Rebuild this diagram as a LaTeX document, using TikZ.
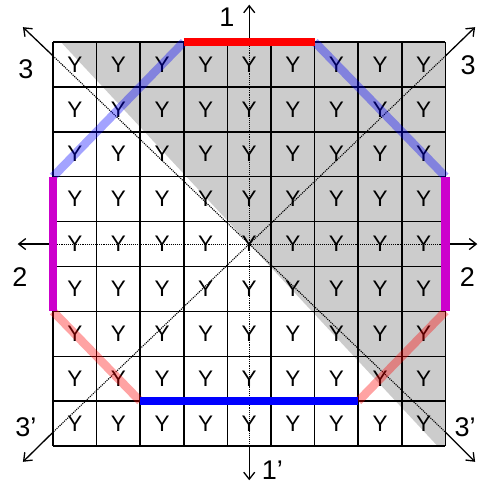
\documentclass[tikz,border=0pt]{standalone}
\usepackage{fontspec}
\setmainfont{Liberation Sans}
\usetikzlibrary{
    arrows.meta
}
\definecolor{CinzaSombra}{HTML}{CCCCCC}
\definecolor{MagentaBorda}{HTML}{CC00CC}
\definecolor{VermelhoBorda}{HTML}{FF0000}
\definecolor{AzulBorda}{HTML}{0000FF}

\tikzset{
    cell/.style={inner sep=0pt, font=\fontsize{22.5}{22.5}\selectfont},
    axislabel/.style={inner sep=0pt, font=\fontsize{27}{27}\selectfont},
    gridline/.style={line width=1.6pt},
    axis/.style={line width=1.3pt, -{Straight Barb[length=7pt,width=11pt]}},
    guide/.style={line width=1.1pt, densely dotted},
    edge/.style={line width=8.5pt},
    faded/.style={line width=8.5pt, opacity=0.36}
}

\begin{document}
\begin{tikzpicture}[x=43.6pt, y=-44.9pt]
    \useasboundingbox (-1.216,-0.935) rectangle (9.748,9.866);

    % shaded half of the board
    \fill[CinzaSombra] (0.18,0) -- (9,0) -- (9,9) -- (8.82,9) -- cycle;

    % board
    \foreach \k in {0,...,9} {
        \draw[gridline] (\k,0) -- (\k,9);
        \draw[gridline] (0,\k) -- (9,\k);
    }
    \foreach \r in {1,...,9}
        \foreach \c in {1,...,9}
            \node[cell] (y-\r-\c) at (\c-0.5,\r-0.5) {Y};

    % axis ends
    \coordinate (axisTop) at (4.5,0);
    \coordinate (axisBottom) at (4.5,9);
    \coordinate (axisLeft) at (0,4.5);
    \coordinate (axisRight) at (9,4.5);
    \coordinate (diagTL) at (0,0.31);
    \coordinate (diagTR) at (9,0.31);
    \coordinate (diagBL) at (0,8.69);
    \coordinate (diagBR) at (9,8.69);
    \coordinate (tipTop) at (4.5,-0.83);
    \coordinate (tipBottom) at (4.5,9.76);
    \coordinate (tipLeft) at (-0.81,4.5);
    \coordinate (tipRight) at (9.73,4.5);
    \coordinate (tipTL) at (-0.69,-0.33);
    \coordinate (tipTR) at (9.68,-0.33);
    \coordinate (tipBL) at (-0.69,9.35);
    \coordinate (tipBR) at (9.68,9.35);

    % dotted guides across the board
    \draw[guide] (axisTop) -- (axisBottom);
    \draw[guide] (axisLeft) -- (axisRight);
    \draw[guide] (diagTL) -- (diagBR);
    \draw[guide] (diagTR) -- (diagBL);

    % arrows outside the board
    \draw[axis] (axisTop) -- (tipTop);
    \draw[axis] (axisBottom) -- (tipBottom);
    \draw[axis] (axisLeft) -- (tipLeft);
    \draw[axis] (axisRight) -- (tipRight);
    \draw[axis] (diagTL) -- (tipTL);
    \draw[axis] (diagTR) -- (tipTR);
    \draw[axis] (diagBL) -- (tipBL);
    \draw[axis] (diagBR) -- (tipBR);

    % octagon corners
    \coordinate (octA) at (3,0);
    \coordinate (octB) at (6,0);
    \coordinate (octC) at (9,3);
    \coordinate (octD) at (9,6);
    \coordinate (octE) at (7,8);
    \coordinate (octF) at (2,8);
    \coordinate (octG) at (0,6);
    \coordinate (octH) at (0,3);

    \draw[faded, AzulBorda] (octH) -- (octA);
    \draw[faded, AzulBorda] (octB) -- (octC);
    \draw[faded, VermelhoBorda] (octG) -- (octF);
    \draw[faded, VermelhoBorda] (octE) -- (octD);
    \draw[edge, VermelhoBorda] (octA) -- (octB);
    \draw[edge, AzulBorda] (octF) -- (octE);
    \draw[edge, MagentaBorda] (octH) -- (octG);
    \draw[edge, MagentaBorda] (octC) -- (octD);

    % labels
    \node[axislabel] (lab1) at (3.99,-0.56) {1};
    \node[axislabel] (lab1p) at (5.03,9.53) {1’};
    \node[axislabel] (lab2l) at (-0.76,5.23) {2};
    \node[axislabel] (lab2r) at (9.5,5.23) {2};
    \node[axislabel] (lab3l) at (-0.62,0.6) {3};
    \node[axislabel] (lab3r) at (9.52,0.51) {3};
    \node[axislabel] (lab3lp) at (-0.62,8.57) {3’};
    \node[axislabel] (lab3rp) at (9.45,8.57) {3’};
\end{tikzpicture}
\end{document}
